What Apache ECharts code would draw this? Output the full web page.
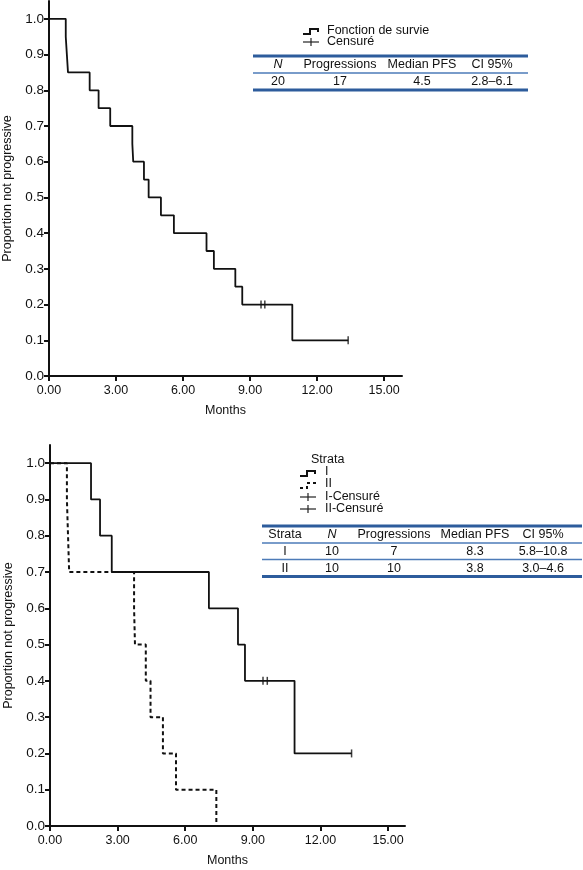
<!DOCTYPE html>
<html>
<head>
<meta charset="utf-8">
<script src="https://cdn.jsdelivr.net/npm/echarts@6/dist/echarts.min.js"></script>
<style>
html,body{margin:0;padding:0;background:#fff;}
#chart{width:583px;height:870px;}
</style>
</head>
<body>
<div id="chart"></div>
<script>
// ---- data ----
const monthTicks = [0, 3, 6, 9, 12, 15];
const propTicks = [0, 0.1, 0.2, 0.3, 0.4, 0.5, 0.6, 0.7, 0.8, 0.9, 1.0];

// overall survival function
const allTimes = [0, 0.75, 0.80, 0.85, 1.82, 2.22, 2.74, 3.73, 3.77, 4.25, 4.46, 5.01, 5.59, 7.05, 7.38, 8.34, 8.65, 10.89, 13.39];
const allSurv  = [1.0, 0.95, 0.90, 0.85, 0.80, 0.75, 0.70, 0.65, 0.60, 0.55, 0.50, 0.45, 0.40, 0.35, 0.30, 0.25, 0.20, 0.10, 0.10];
const allCensTimes = [9.49, 9.66, 13.39];
const allCensSurv  = [0.20, 0.20, 0.10];

// strata I
const s1Times = [0, 1.82, 2.22, 2.74, 7.05, 8.34, 8.65, 10.85, 13.38];
const s1Surv  = [1.0, 0.9, 0.8, 0.7, 0.6, 0.5, 0.4, 0.2, 0.2];
const s1CensTimes = [9.45, 9.64, 13.38];
const s1CensSurv  = [0.4, 0.4, 0.2];

// strata II
const s2Times = [0, 0.75, 0.80, 0.85, 3.73, 3.77, 4.25, 4.46, 5.01, 5.59, 7.38];
const s2Surv  = [1.0, 0.9, 0.8, 0.7, 0.6, 0.5, 0.4, 0.3, 0.2, 0.1, 0.0];

// tables
const table1Header = ['N', 'Progressions', 'Median PFS', 'CI 95%'];
const table1Rows = [['20', '17', '4.5', '2.8–6.1']];
const table2Header = ['Strata', 'N', 'Progressions', 'Median PFS', 'CI 95%'];
const table2Rows = [['I', '10', '7', '8.3', '5.8–10.8'], ['II', '10', '10', '3.8', '3.0–4.6']];

// ---- chart ----
const FONT = '"Liberation Sans", Arial, Helvetica, sans-serif';
const zip = (a, b) => a.map((v, i) => [v, b[i]]);

function xAxisCfg(gridIndex, max) {
  return {
    type: 'value', gridIndex, min: 0, max,
    name: 'Months', nameLocation: 'middle', nameGap: 28,
    nameTextStyle: {fontFamily: FONT, fontSize: 12.5, color: '#111'},
    axisLine: {show: true, onZero: false, lineStyle: {color: '#111', width: 2}},
    axisTick: {show: true, length: 5, lineStyle: {color: '#111', width: 2}, customValues: monthTicks},
    axisLabel: {fontFamily: FONT, fontSize: 12.5, color: '#111', margin: 8, customValues: monthTicks,
      formatter: v => v.toFixed(2)},
    splitLine: {show: false}
  };
}
function yAxisCfg(gridIndex) {
  return {
    type: 'value', gridIndex, min: 0, max: 1.05,
    name: 'Proportion not progressive', nameLocation: 'middle', nameGap: 33,
    nameTextStyle: {fontFamily: FONT, fontSize: 12.5, color: '#111'},
    axisLine: {show: true, onZero: false, lineStyle: {color: '#111', width: 2}},
    axisTick: {show: true, length: 5, lineStyle: {color: '#111', width: 2}, customValues: propTicks},
    axisLabel: {fontFamily: FONT, fontSize: 13.5, color: '#111', margin: 5, customValues: propTicks,
      formatter: v => v.toFixed(1)},
    splitLine: {show: false}
  };
}

const graphics = [];
const BLUE = '#2d5c9c';
function hline(x1, x2, y, w, c) {
  graphics.push({type: 'line', shape: {x1, y1: y, x2, y2: y}, style: {stroke: c || BLUE, lineWidth: w}, silent: true});
}
function txt(text, x, y, opts) {
  graphics.push({type: 'text', silent: true, style: Object.assign({
    text, x, y, fill: '#111', fontFamily: FONT, fontSize: 12.5, align: 'center', verticalAlign: 'middle'
  }, opts || {})});
}
function stepIcon(x, y, dashed) {
  graphics.push({type: 'polyline', silent: true,
    shape: {points: [[x, y + 3], [x + 7, y + 3], [x + 7, y - 2], [x + 15, y - 2], [x + 15, y + 1]]},
    style: {stroke: '#111', lineWidth: 2, fill: null, lineDash: dashed ? [3, 3] : null}});
}
function plusIcon(x, y) {
  graphics.push({type: 'line', silent: true, shape: {x1: x, y1: y, x2: x + 16, y2: y}, style: {stroke: '#222', lineWidth: 1.2}});
  graphics.push({type: 'line', silent: true, shape: {x1: x + 8, y1: y - 4, x2: x + 8, y2: y + 4}, style: {stroke: '#222', lineWidth: 1.2}});
}

// top legend
stepIcon(303, 31);
txt('Fonction de survie', 327, 31, {align: 'left'});
plusIcon(303, 42);
txt('Censuré', 327, 42, {align: 'left'});
// top table
hline(253, 528, 56, 3);
hline(253, 528, 73, 1.5, '#4d7bb8');
hline(253, 528, 90, 3);
const t1Cols = [278, 340, 422, 492];
table1Header.forEach((h, i) => txt(h, t1Cols[i], 65, h === 'N' ? {fontStyle: 'italic'} : {}));
table1Rows.forEach((r, ri) => r.forEach((c, i) => txt(c, t1Cols[i], 82 + ri * 17)));

// bottom legend
txt('Strata', 311, 460, {align: 'left'});
stepIcon(300, 473);
txt('I', 325, 472, {align: 'left'});
stepIcon(300, 485, true);
txt('II', 325, 484, {align: 'left'});
plusIcon(300, 497);
txt('I-Censuré', 325, 497, {align: 'left'});
plusIcon(300, 509);
txt('II-Censuré', 325, 509, {align: 'left'});
// bottom table
hline(262, 582, 526, 3);
hline(262, 582, 543, 1.5, '#4d7bb8');
hline(262, 582, 559.5, 1.5, '#4d7bb8');
hline(262, 582, 576.5, 3);
const t2Cols = [285, 332, 394, 475, 543];
table2Header.forEach((h, i) => txt(h, t2Cols[i], 535, h === 'N' ? {fontStyle: 'italic'} : {}));
table2Rows.forEach((r, ri) => r.forEach((c, i) => txt(c, t2Cols[i], 552 + ri * 16.5)));

const censStyle = {symbol: 'rect', symbolSize: [1.5, 8], itemStyle: {color: '#111'}};

const option = {
  backgroundColor: '#fff',
  animation: false,
  grid: [
    {left: 49, right: 181, top: 1, bottom: 494, outerBoundsMode: 'none', containLabel: false},
    {left: 50, right: 178, top: 445, bottom: 44, outerBoundsMode: 'none', containLabel: false}
  ],
  xAxis: [xAxisCfg(0, 15.8), xAxisCfg(1, 15.75)],
  yAxis: [yAxisCfg(0), yAxisCfg(1)],
  series: [
    {type: 'line', xAxisIndex: 0, yAxisIndex: 0, step: 'end', showSymbol: false,
      data: zip(allTimes, allSurv), lineStyle: {color: '#111', width: 1.8}},
    Object.assign({type: 'scatter', xAxisIndex: 0, yAxisIndex: 0, data: zip(allCensTimes, allCensSurv)}, censStyle),
    {type: 'line', xAxisIndex: 1, yAxisIndex: 1, step: 'end', showSymbol: false,
      data: zip(s1Times, s1Surv), lineStyle: {color: '#111', width: 1.8}},
    {type: 'line', xAxisIndex: 1, yAxisIndex: 1, step: 'end', showSymbol: false,
      data: zip(s2Times, s2Surv), lineStyle: {color: '#111', width: 2, type: [4, 3]}},
    Object.assign({type: 'scatter', xAxisIndex: 1, yAxisIndex: 1, data: zip(s1CensTimes, s1CensSurv)}, censStyle)
  ],
  graphic: graphics
};

const chart = echarts.init(document.getElementById('chart'), null, {renderer: 'canvas'});
chart.setOption(option);
</script>
</body>
</html>
